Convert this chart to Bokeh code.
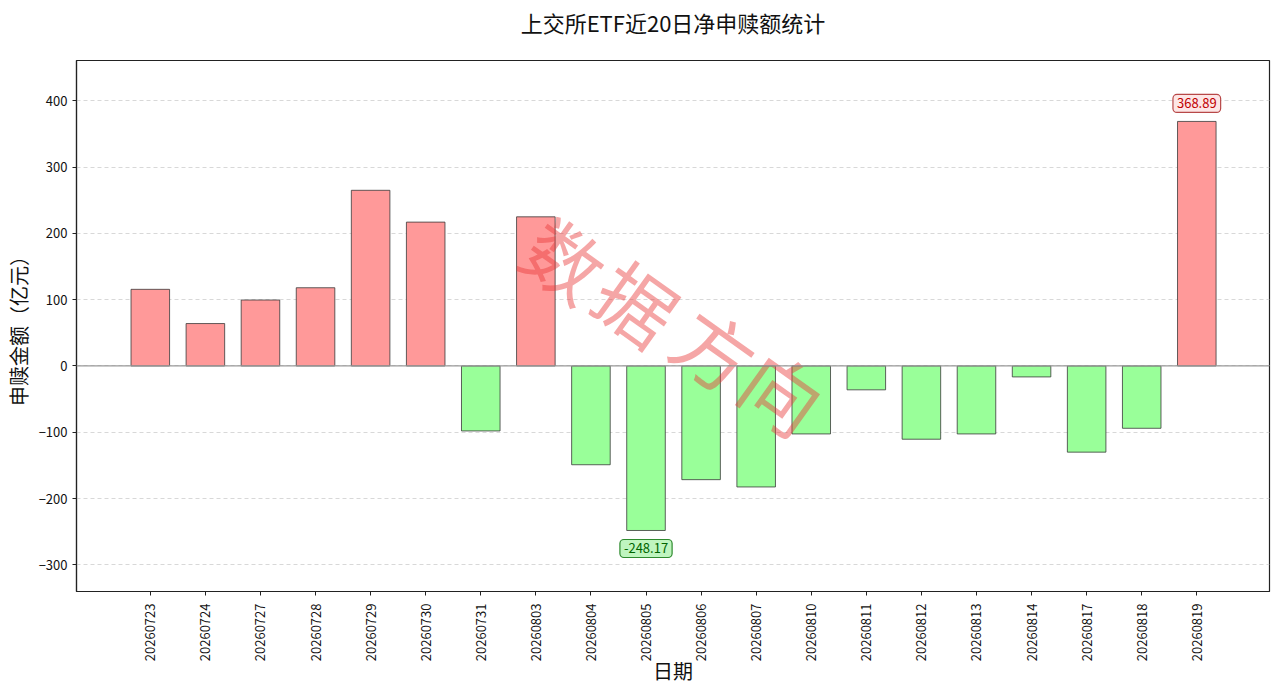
import math
import numpy as np
from bokeh.plotting import figure
from bokeh.models import (Range1d, FixedTicker, Label, Span, ColumnDataSource,
                          LinearAxis)
from bokeh.core.properties import value
from bokeh.embed import file_html
from bokeh.resources import INLINE

# ---------------- data ----------------
dates = ["20260723", "20260724", "20260727", "20260728", "20260729",
         "20260730", "20260731", "20260803", "20260804", "20260805",
         "20260806", "20260807", "20260810", "20260811", "20260812",
         "20260813", "20260814", "20260817", "20260818", "20260819"]
values = [115.6, 64.0, 99.5, 118.0, 265.0,
          217.0, -98.0, 225.0, -149.0, -248.17,
          -171.5, -182.5, -102.5, -36.0, -110.5,
          -102.5, -16.5, -130.0, -94.0, 368.89]
y_ticks = [-300, -200, -100, 0, 100, 200, 300, 400]
title_text = "上交所ETF近20日净申赎额统计"
y_label = "申赎金额（亿元）"
x_label = "日期"
watermark_chars = ["数", "据", "方", "向"]
watermark_x = [7.55, 8.86, 10.28, 11.50]
watermark_y = [163, 98, 27, -37]

FONT = "Noto Sans CJK SC"

idx = list(range(len(dates)))
vals = np.array(values)
colors = ["#FF9999" if v >= 0 else "#99FF99" for v in values]
src = ColumnDataSource(dict(x=idx, top=values, color=colors))

X0, X1 = -1.34, 20.32
Y0, Y1 = -340.2, 460.8

p = figure(width=1272, height=688, output_backend="svg", toolbar_location=None,
           x_range=Range1d(X0, X1), y_range=Range1d(Y0, Y1),
           min_border_left=76, min_border_right=3, min_border_top=60,
           min_border_bottom=97, background_fill_color="white",
           border_fill_color="white")
p.title.text = ""

# grid
p.xgrid.grid_line_color = None
p.ygrid.ticker = FixedTicker(ticks=y_ticks)
p.ygrid.grid_line_color = "#d8d8d8"
p.ygrid.grid_line_dash = "4 3"
p.ygrid.grid_line_width = 1

# bars
p.vbar(x="x", top="top", bottom=0, width=0.7, fill_color="color",
       line_color="#3a3a3a", line_width=0.8, source=src)

# zero line
p.add_layout(Span(location=0, dimension="width", line_color="#9a9a9a",
                  line_width=1.2))

# watermark
p.text(x=watermark_x, y=watermark_y, text=watermark_chars, angle=-0.62,
       text_font=value(FONT), text_font_size="78px", text_color="#e83a3a",
       text_alpha=0.45, text_align="center", text_baseline="middle")

# max / min annotations
imax = int(np.argmax(vals))
imin = int(np.argmin(vals))
p.add_layout(Label(x=imax, y=float(vals[imax]), text=f"{vals[imax]:.2f}",
                   y_offset=18, text_align="center", text_baseline="middle",
                   text_font=FONT, text_font_size="13px", text_color="#c00000",
                   background_fill_color="#fde6e6", border_line_color="#b84848",
                   border_line_width=1.2, border_radius=4, padding=4))
p.add_layout(Label(x=imin, y=float(vals[imin]), text=f"{vals[imin]:.2f}",
                   y_offset=-18, text_align="center", text_baseline="middle",
                   text_font=FONT, text_font_size="13px", text_color="#006400",
                   background_fill_color="#bff5bf", border_line_color="#2e8a2e",
                   border_line_width=1.2, border_radius=4, padding=4))

# main axes
xa = p.below[0]
ya = p.left[0]
xa.ticker = FixedTicker(ticks=idx)
xa.major_label_overrides = {i: d for i, d in zip(idx, dates)}
xa.major_label_orientation = math.pi / 2
ya.ticker = FixedTicker(ticks=y_ticks)
for ax in (xa, ya):
    ax.major_label_text_font = FONT
    ax.major_label_text_font_size = "13px"
    ax.major_label_text_color = "#111111"
    ax.major_tick_out = 4
    ax.major_tick_in = 0
    ax.minor_tick_out = 0
    ax.minor_tick_in = 0
    ax.major_tick_line_color = "#222222"
    ax.axis_line_color = "#222222"
    ax.axis_line_width = 1.2
    ax.axis_label_text_font = FONT
    ax.axis_label_text_font_size = "20px"
    ax.axis_label_text_font_style = "normal"
    ax.axis_label_text_color = "#111111"
xa.major_label_standoff = 8
ya.major_label_standoff = 5
xa.axis_label = x_label
ya.axis_label = y_label
xa.axis_label_standoff = -8
ya.axis_label_standoff = 3

# title as the label of a bare axis above the frame
title_axis = LinearAxis(ticker=FixedTicker(ticks=[]), axis_label=title_text,
                        axis_line_color=None, major_tick_out=0, major_tick_in=0,
                        minor_tick_out=0, minor_tick_in=0,
                        major_label_standoff=0, axis_label_standoff=23,
                        major_label_text_font_size="1px",
                        axis_label_text_font=FONT,
                        axis_label_text_font_size="22px",
                        axis_label_text_font_style="normal",
                        axis_label_text_color="#111111")
p.add_layout(title_axis, "above")

p.outline_line_color = "#222222"
p.outline_line_width = 1.2
p.outline_line_alpha = 1

open("out.html", "w").write(file_html(p, INLINE))
